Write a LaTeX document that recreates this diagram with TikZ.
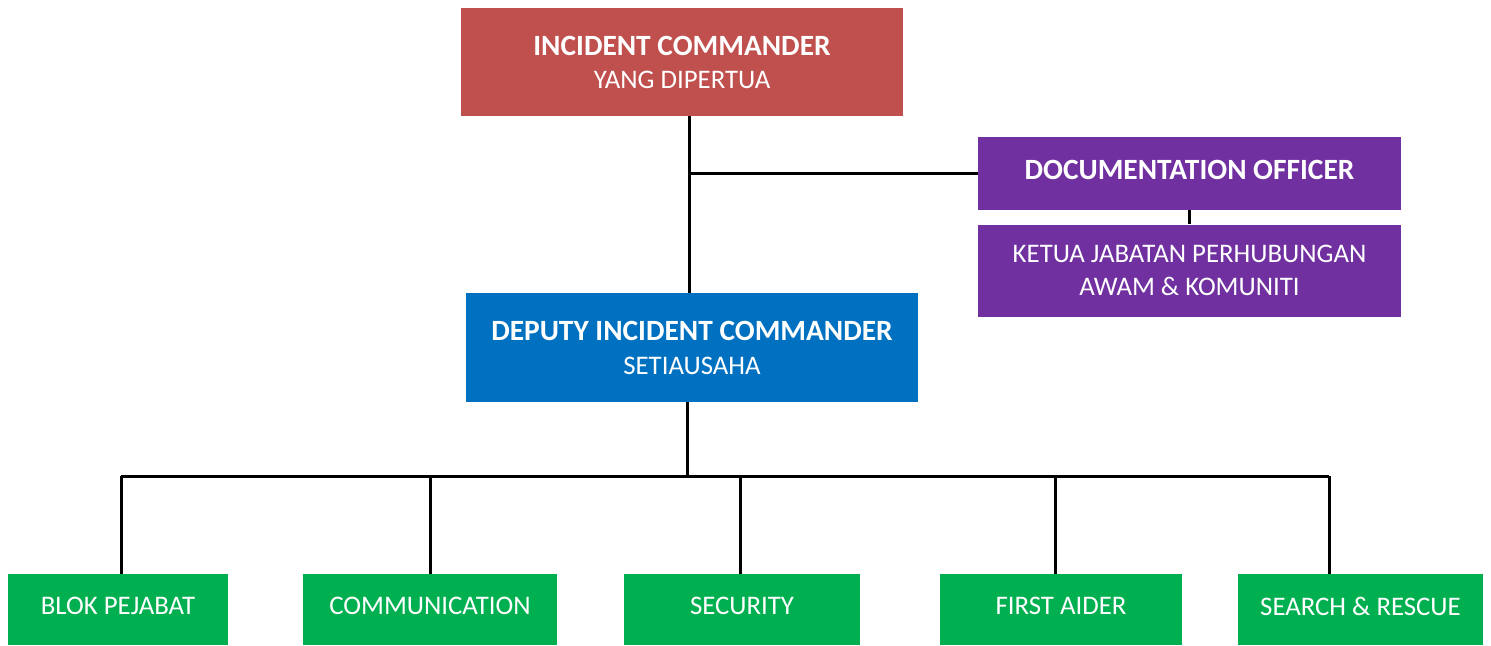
\documentclass[tikz,border=0pt]{standalone}
\usepackage{fontspec}
\setmainfont{Carlito}
\usetikzlibrary{positioning}
\definecolor{icred}{HTML}{C0504D}
\definecolor{docpurple}{HTML}{7030A0}
\definecolor{dicblue}{HTML}{0070C0}
\definecolor{teamgreen}{HTML}{00B050}
\newcommand{\headtext}[1]{{\fontsize{14.7}{16.5}\selectfont\bfseries #1}}

\begin{document}
\begin{tikzpicture}[x=0.5pt,y=-0.5pt,
  box/.style={inner sep=0pt, align=center, text=white, font=\fontsize{13.4}{16.5}\selectfont},
  team/.style={box, fill=teamgreen, minimum height=35.5pt, text depth=3.5pt},
  link/.style={line width=1.5pt}]
\useasboundingbox (0,0) rectangle (1491,645);
% nodes
\node [box, fill=icred, minimum width=221pt, minimum height=54pt] (ic) at (682,62)
  {\headtext{INCIDENT COMMANDER}\\YANG DIPERTUA};
\node [box, fill=docpurple, minimum width=211.5pt, minimum height=36.5pt, text depth=3.5pt] (doc) at (1189.5,173.5)
  {\headtext{DOCUMENTATION OFFICER}};
\node [box, fill=docpurple, minimum width=211.5pt, minimum height=46pt, below=7pt of doc] (ketua)
  {KETUA JABATAN PERHUBUNGAN\\AWAM \& KOMUNITI};
\node [box, fill=dicblue, minimum width=226pt, minimum height=54.5pt] (dic) at (692,347.5)
  {\headtext{DEPUTY INCIDENT COMMANDER}\\[0.5pt]SETIAUSAHA};
\node [team, minimum width=110pt] (blok) at (118,609.5) {BLOK PEJABAT};
\node [team, minimum width=127pt] (comm) at (430,609.5) {COMMUNICATION};
\node [team, minimum width=118pt] (sec) at (742,609.5) {SECURITY};
\node [team, minimum width=121pt] (first) at (1061,609.5) {FIRST AIDER};
\node [team, minimum width=122.5pt] (sar) at (1360.5,609.5) {SEARCH \& RESCUE};
\coordinate (bus) at (0,476);
% lines
\draw [link] ([xshift=3.5pt]ic.south) -- ([xshift=3.5pt]ic.south |- dic.north);
\draw [link] ([xshift=3.5pt]ic.south |- doc.west) -- (doc.west);
\draw [link] (doc.south) -- (ketua.north);
\draw [link] ([xshift=-2.5pt]dic.south) -- ([xshift=-2.5pt]dic.south |- bus);
\draw [link] ([xshift=1.5pt]blok.north |- bus) -- ([xshift=-15.75pt]sar.north |- bus);
\draw [link] ([xshift=1.5pt]blok.north |- bus) -- ([xshift=1.5pt]blok.north);
\draw [link] (comm.north |- bus) -- (comm.north);
\draw [link] ([xshift=-1pt]sec.north |- bus) -- ([xshift=-1pt]sec.north);
\draw [link] ([xshift=-3pt]first.north |- bus) -- ([xshift=-3pt]first.north);
\draw [link] ([xshift=-15.75pt]sar.north |- bus) -- ([xshift=-15.75pt]sar.north);
\end{tikzpicture}
\end{document}
